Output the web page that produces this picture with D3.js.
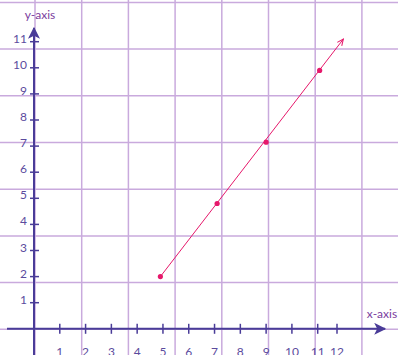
<!DOCTYPE html>
<html>
<head>
<meta charset="utf-8">
<script src="https://cdn.jsdelivr.net/npm/d3@7"></script>
<style>
  body { margin: 0; background: #fff; }
  svg { display: block; font-family: "Lato", "Open Sans", sans-serif; }
</style>
</head>
<body>
<svg id="chart"></svg>
<script>
// tick labels on both axes
const xTicks = [1, 2, 3, 4, 5, 6, 7, 8, 9, 10, 11, 12];
const yTicks = [1, 2, 3, 4, 5, 6, 7, 8, 9, 10, 11];

// plotted points
const pointX = [4.9, 7.1, 9, 11.1];
const pointY = [2, 4.8, 7.15, 9.9];
// where the ray ends (arrow tip)
const rayEnd = [12.33, 11.1];

// background grid cells (independent of the axis units)
const gridCols = d3.range(0, 9);
const gridRows = d3.range(0, 9);

const width = 398, height = 355;
const svg = d3.select('#chart').attr('width', width).attr('height', height);

const axisColor = '#4a3c98';
const labelColor = '#5b4b9e';
const gridColor = '#c9aadd';
const lineColor = '#e6186b';

// scales -- the drawing squeezes 11..12 on the x axis a bit
const x = d3.scaleLinear().domain([0, 11, 12]).range([34, 317.7, 337]);
const y = d3.scaleLinear().domain([0, 11]).range([328.8, 41.7]);
const gx = d3.scaleLinear().domain([0, 1]).range([35, 81.7]);
const gy = d3.scaleLinear().domain([0, 1]).range([329.3, 282.6]);

// grid
const grid = svg.append('g');
grid.selectAll('.gv').data(gridCols).join('line')
  .attr('x1', d => gx(d)).attr('x2', d => gx(d))
  .attr('y1', 0).attr('y2', height)
  .attr('stroke', gridColor).attr('stroke-width', 1.5);
grid.selectAll('.gh').data(gridRows).join('line')
  .attr('y1', d => gy(d)).attr('y2', d => gy(d))
  .attr('x1', 0).attr('x2', width)
  .attr('stroke', gridColor).attr('stroke-width', 1.5);

// arrow markers
const defs = svg.append('defs');
defs.append('marker')
  .attr('id', 'axisArrow')
  .attr('viewBox', '0 0 10 10')
  .attr('refX', 9).attr('refY', 5)
  .attr('markerWidth', 12).attr('markerHeight', 12)
  .attr('markerUnits', 'userSpaceOnUse')
  .attr('orient', 'auto')
  .append('path').attr('d', 'M0,0 L10,5 L0,10 L2.5,5 Z').attr('fill', axisColor);
defs.append('marker')
  .attr('id', 'rayArrow')
  .attr('viewBox', '0 0 10 10')
  .attr('refX', 9).attr('refY', 5)
  .attr('markerWidth', 7).attr('markerHeight', 7)
  .attr('markerUnits', 'userSpaceOnUse')
  .attr('orient', 'auto')
  .append('path').attr('d', 'M0,1 L9,5 L0,9').attr('fill', 'none')
  .attr('stroke', lineColor).attr('stroke-width', 1.5);

// x axis
const xAxis = svg.append('g');
xAxis.append('line')
  .attr('x1', 7).attr('x2', 385)
  .attr('y1', y(0)).attr('y2', y(0))
  .attr('stroke', axisColor).attr('stroke-width', 2)
  .attr('marker-end', 'url(#axisArrow)');
xAxis.selectAll('.xt').data(xTicks).join('line')
  .attr('x1', d => x(d)).attr('x2', d => x(d))
  .attr('y1', y(0) - 5).attr('y2', y(0) + 5)
  .attr('stroke', axisColor).attr('stroke-width', 1.5);
xAxis.selectAll('.xl').data(xTicks).join('text')
  .attr('x', d => x(d)).attr('y', y(0) + 27)
  .attr('text-anchor', 'middle')
  .attr('font-size', 12).attr('fill', labelColor)
  .text(d => d);

// y axis
const yAxis = svg.append('g');
yAxis.append('line')
  .attr('x1', x(0)).attr('x2', x(0))
  .attr('y1', height).attr('y2', 28)
  .attr('stroke', axisColor).attr('stroke-width', 2)
  .attr('marker-end', 'url(#axisArrow)');
yAxis.selectAll('.yt').data(yTicks).join('line')
  .attr('x1', x(0) - 4).attr('x2', x(0) + 5)
  .attr('y1', d => y(d)).attr('y2', d => y(d))
  .attr('stroke', axisColor).attr('stroke-width', 1.5);
yAxis.selectAll('.yl').data(yTicks).join('text')
  .attr('x', 27).attr('y', d => y(d) + 1)
  .attr('text-anchor', 'end')
  .attr('font-size', 12).attr('fill', labelColor)
  .text(d => d);

// axis names
svg.append('text').attr('x', 40).attr('y', 19)
  .attr('text-anchor', 'middle').attr('font-size', 12)
  .attr('fill', '#7a3d9e').text('y-axis');
svg.append('text').attr('x', 382).attr('y', 318)
  .attr('text-anchor', 'middle').attr('font-size', 12)
  .attr('fill', '#7a3d9e').text('x-axis');

// the ray through the points
const pts = pointX.map((v, i) => [v, pointY[i]]);
svg.append('path')
  .datum([pts[0], rayEnd])
  .attr('d', d3.line().x(d => x(d[0])).y(d => y(d[1])))
  .attr('fill', 'none').attr('stroke', lineColor).attr('stroke-width', 1)
  .attr('marker-end', 'url(#rayArrow)');

svg.selectAll('.pt').data(pts).join('circle')
  .attr('cx', d => x(d[0])).attr('cy', d => y(d[1]))
  .attr('r', 2.6).attr('fill', lineColor);
</script>
</body>
</html>
